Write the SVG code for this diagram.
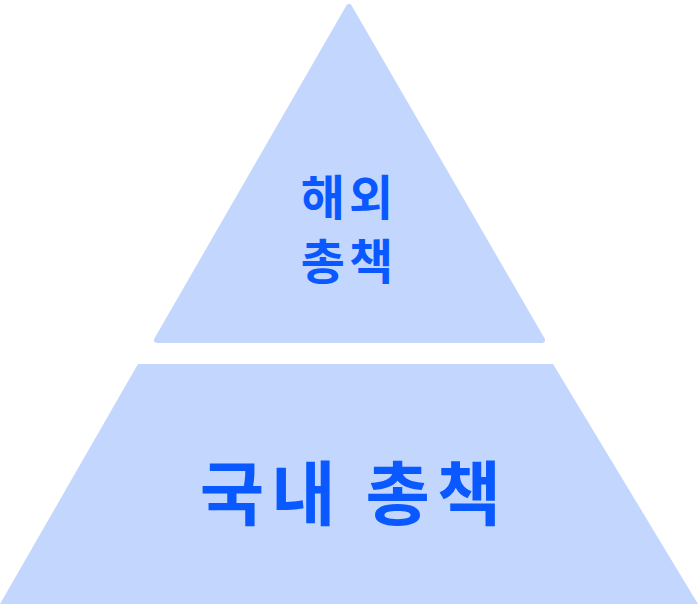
<svg xmlns="http://www.w3.org/2000/svg" width="698" height="604" viewBox="0 0 698 604">
<style>
.tier{fill:#c2d6fe;stroke:#c2d6fe;stroke-width:6;stroke-linejoin:round}
.lbl{fill:#0a58ff;font-family:"Noto Sans CJK KR","Noto Sans",sans-serif;font-weight:700;text-anchor:middle;dominant-baseline:central}
</style>
<rect width="698" height="604" fill="#ffffff"/>
<g id="top-tier">
<polygon class="tier" points="349,7 157,340 542,340"/>
<text class="lbl" x="349" y="194" font-size="48" letter-spacing="4">해외</text>
<text class="lbl" x="349" y="258" font-size="48" letter-spacing="4">총책</text>
</g>
<g id="bottom-tier">
<polygon points="138,364 553,364 698,604 0,604" fill="#c2d6fe"/>
<text class="lbl" x="354" y="489" font-size="70" letter-spacing="7">국내 총책</text>
</g>
<g id="connectors"/>
</svg>
